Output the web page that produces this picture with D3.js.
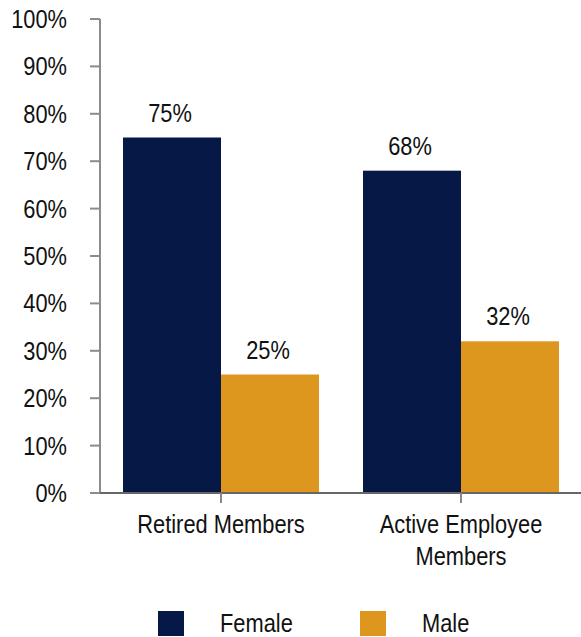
<!DOCTYPE html>
<html><head><meta charset="utf-8">
<script src="https://cdn.jsdelivr.net/npm/d3@7"></script>
<style>body{margin:0;background:#fff}svg{display:block}text{font-family:"Liberation Sans",Arial,sans-serif;fill:#111}</style>
</head><body><svg id="c" width="581" height="637"></svg>
<script>
const categories = [["Retired Members"], ["Active Employee", "Members"]];
const categoryKeys = ["Retired Members", "Active Employee Members"];
const seriesNames = ["Female", "Male"];
const female = [75, 68];
const male = [25, 32];
const yTicks = [0,10,20,30,40,50,60,70,80,90,100];
const colors = ["#061845", "#DD961E"];

const svg = d3.select("#c");
const FS = 26, SX = 0.84;
function txt(g, x, y, s, anchor) {
  return g.append("text").attr("transform", `translate(${x},${y}) scale(${SX},1)`)
    .attr("text-anchor", anchor || "middle").attr("font-size", FS).text(s);
}
const y = d3.scaleLinear().domain([0,100]).range([493,19]);
const x0 = d3.scaleBand().domain(categoryKeys).range([101,581]).paddingInner(0.1833).paddingOuter(0.0917);
const x1 = d3.scaleBand().domain(seriesNames).range([0, x0.bandwidth()]);
const series = [female, male];

// bars
seriesNames.forEach((s, si) => {
  svg.append("g").selectAll("rect").data(categoryKeys).join("rect")
    .attr("x", d => x0(d) + x1(s)).attr("width", x1.bandwidth())
    .attr("y", (d,i) => y(series[si][i])).attr("height", (d,i) => y(0) - y(series[si][i]))
    .attr("fill", colors[si]);
  categoryKeys.forEach((c, i) => {
    txt(svg, x0(c) + x1(s) + x1.bandwidth()/2 - 2, y(series[si][i]) - 16, series[si][i] + "%");
  });
});

// y axis
const ya = svg.append("g");
ya.append("line").attr("x1",100).attr("x2",100).attr("y1",y(100)).attr("y2",y(0)).attr("stroke","#8c8c8c").attr("stroke-width",2);
yTicks.forEach(t => {
  ya.append("line").attr("x1",90).attr("x2",100).attr("y1",y(t)).attr("y2",y(t)).attr("stroke","#8c8c8c").attr("stroke-width",2);
  txt(ya, 67, y(t) + 9, t + "%", "end");
});
// x axis
const xa = svg.append("g");
xa.append("line").attr("x1",100).attr("x2",581).attr("y1",y(0)).attr("y2",y(0)).attr("stroke","#666").attr("stroke-width",2);
categoryKeys.forEach((c, i) => {
  const cx = Math.round(x0(c) + x0.bandwidth()/2);
  xa.append("line").attr("x1",cx).attr("x2",cx).attr("y1",y(0)).attr("y2",y(0)+10).attr("stroke","#888").attr("stroke-width",2);
  categories[i].forEach((line, li) => txt(xa, cx, 533 + li*32, line));
});

// legend
const lg = svg.append("g");
const legX = [158, 360];
seriesNames.forEach((s, i) => {
  lg.append("rect").attr("x", legX[i]).attr("y", 611).attr("width", 26).attr("height", 25).attr("fill", colors[i]);
  txt(lg, legX[i] + 62, 632, s, "start");
});
</script></body></html>
